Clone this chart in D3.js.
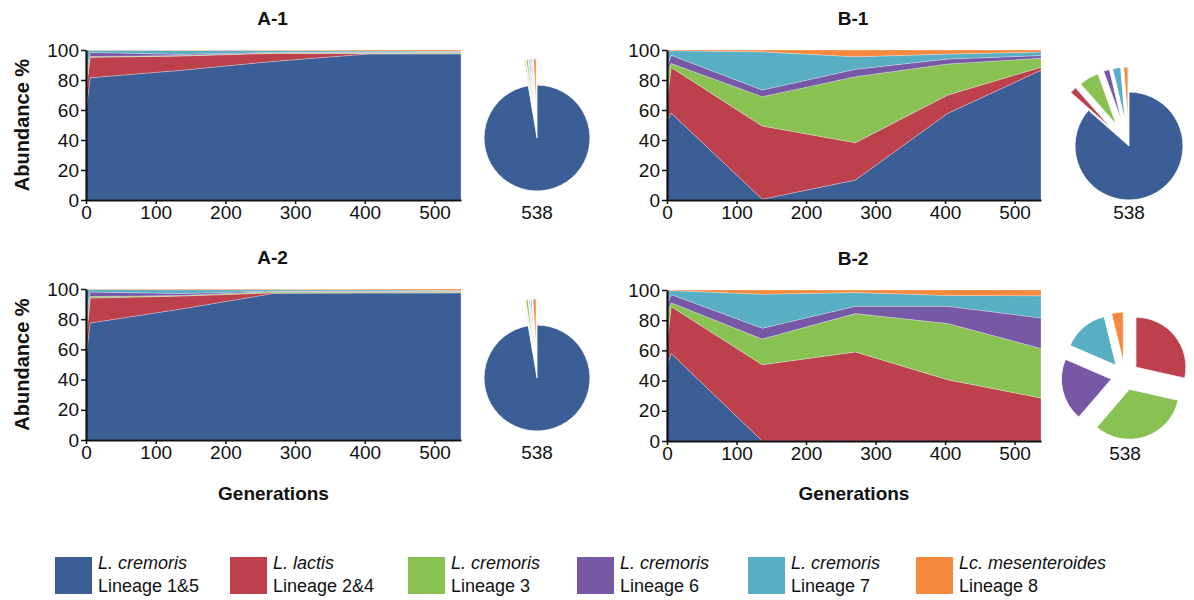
<!DOCTYPE html>
<html>
<head>
<meta charset="utf-8">
<script src="https://cdn.jsdelivr.net/npm/d3@7"></script>
<style>
  body { margin: 0; background: #fff; }
  text { font-family: "Liberation Sans", Arial, sans-serif; fill: #111; }
</style>
</head>
<body>
<svg id="chart" width="1194" height="600"></svg>
<script>
const generations = [0, 6, 137, 271, 404, 538];
const species = ['L. cremoris', 'L. lactis', 'L. cremoris', 'L. cremoris', 'L. cremoris', 'Lc. mesenteroides'];
const lineages = ['Lineage 1&5', 'Lineage 2&4', 'Lineage 3', 'Lineage 6', 'Lineage 7', 'Lineage 8'];
const colors = ['#3b5e96', '#bd414c', '#89c153', '#7658a6', '#58aec3', '#f5893d'];
const yTicks = [0, 20, 40, 60, 80, 100];
const xTicks = [0, 100, 200, 300, 400, 500];
const pieLabel = '538';

// one row per lineage (same order as above), one column per generation, % abundance
const a1 = [
  [59, 81.5, 86.5, 92.5, 97.3, 97.4],
  [13, 13.6, 9.5, 5.3, 0.4, 0.3],
  [10, 0.6, 0.3, 0.3, 0.5, 0.6],
  [3, 2.7, 0.8, 0.3, 0.3, 0.4],
  [14, 1.4, 2.5, 1.3, 0.8, 0.4],
  [1, 0.2, 0.4, 0.3, 0.7, 0.9]
];
const a2 = [
  [55, 77.5, 86.8, 97.2, 97.3, 97.4],
  [10, 16.5, 8.5, 0.3, 0.3, 0.2],
  [12, 1, 0.4, 0.8, 0.8, 0.7],
  [5, 3, 1.3, 0.4, 0.3, 0.3],
  [17, 1.7, 2.5, 0.9, 0.8, 0.4],
  [1, 0.3, 0.5, 0.4, 0.5, 1.0]
];
const b1 = [
  [52, 58, 0.5, 13.3, 57.8, 86.5],
  [14, 30.4, 48.8, 24.9, 12.2, 2],
  [20, 2.6, 19.6, 44, 20.7, 6],
  [3, 5.5, 4.4, 4.9, 3.3, 1.8],
  [10, 3, 25.5, 8.4, 3.3, 2.4],
  [1, 0.5, 1.2, 4.5, 2.7, 1.3]
];
const b2 = [
  [50, 58, 0, 0, 0, 0],
  [15, 31, 50.5, 59, 40.5, 28.5],
  [20, 2.6, 17, 25.4, 37.3, 32.8],
  [5, 5.4, 7.2, 4.8, 11.4, 20.2],
  [9, 2.6, 22.5, 9.1, 7.2, 14.7],
  [1, 0.4, 2.8, 1.7, 3.6, 3.8]
];

const panels = [
  { title: 'A-1', data: a1, left: 86, right: 461, top: 50, bottom: 200, yLabel: true,
    pie: { cx: 537, cy: 138, r: 53, gap: 26, all: false } },
  { title: 'B-1', data: b1, left: 667, right: 1041, top: 50, bottom: 200, yLabel: false,
    pie: { cx: 1129, cy: 146, r: 54, gap: 25, all: false } },
  { title: 'A-2', data: a2, left: 86, right: 461, top: 289, bottom: 440, yLabel: true,
    pie: { cx: 537, cy: 378, r: 53, gap: 26, all: false } },
  { title: 'B-2', data: b2, left: 667, right: 1041, top: 290, bottom: 441, yLabel: false,
    pie: { cx: 1125, cy: 376, r: 50, gap: 14, all: true } }
];

const svg = d3.select('#chart');

panels.forEach(p => {
  const x = d3.scaleLinear().domain([0, 538]).range([p.left, p.right]);
  const y = d3.scaleLinear().domain([0, 100]).range([p.bottom, p.top]);

  const table = generations.map((g, i) => {
    const row = { gen: g };
    p.data.forEach((s, k) => { row[k] = s[i]; });
    return row;
  });
  const series = d3.stack().keys(d3.range(p.data.length))(table);

  const area = d3.area()
    .x(d => x(d.data.gen))
    .y0(d => y(d[0]))
    .y1(d => y(Math.min(100, d[1])));

  const g = svg.append('g');
  g.selectAll('path.layer')
    .data(series)
    .enter().append('path')
    .attr('class', 'layer')
    .attr('d', area)
    .style('fill', (d, i) => colors[i])
    .style('stroke', '#fff')
    .style('stroke-opacity', 0.45)
    .style('stroke-width', 0.6);

  const yAxis = d3.axisLeft(y).tickValues(yTicks).tickSize(5).tickSizeOuter(0).tickPadding(2);
  const xAxis = d3.axisBottom(x).tickValues(xTicks).tickSize(4).tickSizeOuter(0).tickPadding(2);

  const ya = g.append('g')
    .attr('transform', 'translate(' + p.left + ',0)')
    .call(yAxis);
  const xa = g.append('g')
    .attr('transform', 'translate(0,' + p.bottom + ')')
    .call(xAxis);
  [ya, xa].forEach(a => {
    a.select('.domain').style('stroke', '#111').style('stroke-width', 2.2);
    a.selectAll('.tick line').style('stroke', '#111').style('stroke-width', 1.5);
    a.selectAll('.tick text').style('font-size', '19px').style('font-family', '"Liberation Sans", Arial, sans-serif').style('fill', '#111');
  });

  const mid = (p.left + p.right) / 2;
  g.append('text')
    .attr('x', mid - 1)
    .attr('y', p.top - 25)
    .attr('text-anchor', 'middle')
    .style('font-size', '19px')
    .style('font-weight', 'bold')
    .text(p.title);

  if (p.yLabel) {
    g.append('text')
      .attr('transform', 'translate(29,' + ((p.top + p.bottom) / 2) + ') rotate(-90)')
      .attr('text-anchor', 'middle')
      .style('font-size', '20px')
      .style('font-weight', 'bold')
      .text('Abundance %');
  }

  if (p.bottom > 400) {
    g.append('text')
      .attr('x', mid)
      .attr('y', 500)
      .attr('text-anchor', 'middle')
      .style('font-size', '19px')
      .style('font-weight', 'bold')
      .text('Generations');
  }

  // pie of the last generation
  const last = p.data.map(s => s[s.length - 1]);
  const arcs = d3.pie().sort(null).value(d => d)(last);
  const arc = d3.arc().innerRadius(0).outerRadius(p.pie.r);
  const pg = g.append('g').attr('transform', 'translate(' + p.pie.cx + ',' + p.pie.cy + ')');
  pg.selectAll('path')
    .data(arcs)
    .enter().append('path')
    .attr('d', arc)
    .attr('transform', (d, i) => {
      if (!p.pie.all && i === 0) return null;
      const a = (d.startAngle + d.endAngle) / 2;
      return 'translate(' + (Math.sin(a) * p.pie.gap) + ',' + (-Math.cos(a) * p.pie.gap) + ')';
    })
    .style('fill', (d, i) => colors[i])
    .style('stroke', '#fff')
    .style('stroke-width', 0.8);

  g.append('text')
    .attr('x', p.pie.cx)
    .attr('y', p.bottom + 19)
    .attr('text-anchor', 'middle')
    .style('font-size', '19px')
    .text(pieLabel);
});

// legend
const legendX = [55, 230, 408, 577, 748, 916];
const lg = svg.append('g');
species.forEach((s, i) => {
  lg.append('rect')
    .attr('x', legendX[i])
    .attr('y', 557)
    .attr('width', 37)
    .attr('height', 37)
    .style('fill', colors[i]);
  lg.append('text')
    .attr('x', legendX[i] + 43)
    .attr('y', 569)
    .style('font-size', '18px')
    .style('font-style', 'italic')
    .text(s);
  lg.append('text')
    .attr('x', legendX[i] + 43)
    .attr('y', 592)
    .style('font-size', '18px')
    .text(lineages[i]);
});
</script>
</body>
</html>
